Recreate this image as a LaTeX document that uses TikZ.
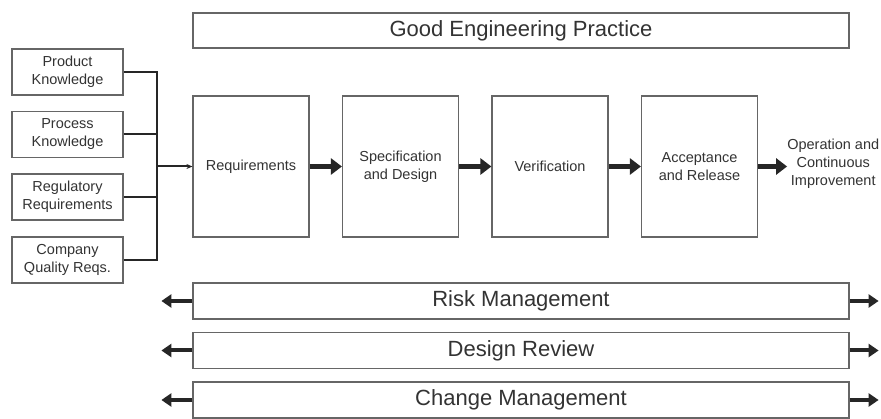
\documentclass[tikz,border=0pt]{standalone}
\usepackage{fontspec}
\setmainfont{Liberation Sans}
\usetikzlibrary{arrows.meta,positioning}
\tikzset{
	box/.style={draw=black!60,line width=1.2pt,text=black!80,align=center,inner sep=0pt},
	inbox/.style={box,minimum width=111pt,minimum height=46pt,font=\fontsize{14.5}{18}\selectfont},
	stage/.style={box,minimum width=116pt,minimum height=141pt,font=\fontsize{14.5}{18}\selectfont},
	bar/.style={box,minimum width=656pt,minimum height=36pt,font=\fontsize{22}{24}\selectfont},
	bus/.style={line width=2pt,black!85},
	fat/.style={line width=5pt,black!85,-{Triangle[length=11pt,width=16pt]}},
	side/.style={line width=4pt,black!85,-{Triangle[length=10pt,width=13pt]}}
}
\begin{document}
\begin{tikzpicture}[x=1pt,y=-1pt]
	\useasboundingbox[fill=white] (0,0) rectangle (881,419);

	\node[bar,minimum height=35pt] (gep) at (521,30.5) {Good Engineering Practice};

	% inputs
	\foreach \i/\y/\t in {1/72/{Product\\Knowledge},2/134.5/{Process\\Knowledge},3/197/{Regulatory\\Requirements},4/260/{Company\\Quality Reqs.}}
		\node[inbox] (in\i) at (67.5,\y) {\t};

	% life cycle
	\node[stage] (req) at (251,166.5) {Requirements};
	\node[stage,right=32.3pt of req] (spec) {Specification\\and Design};
	\node[stage,right=32.3pt of spec] (ver) {Verification};
	\node[stage,right=32.3pt of ver] (acc) {Acceptance\\and Release};
	\node[font=\fontsize{14.5}{18}\selectfont,text=black!80,align=center,inner sep=0pt,right=29pt of acc,yshift=3pt] (op) {Operation and\\Continuous\\Improvement};

	\coordinate (bus) at (157,166.5);
	\foreach \i in {1,...,4} \draw[bus] (in\i.east) -| (bus);
	\draw[bus,-{Stealth[length=6pt,width=5pt]}] (bus) -- (req.west);

	\draw[fat] (req) -- (spec);
	\draw[fat] (spec) -- (ver);
	\draw[fat] (ver) -- (acc);
	\draw[fat] (acc.east) -- (acc.east -| op.west);

	% supporting processes
	\foreach \n/\y/\t in {risk/301/Risk Management,rev/350.5/Design Review,chg/400/Change Management} {
		\node[bar] (\n) at (521,\y) {\t};
		\path (\n.west) ++(-31,0) coordinate (\n-l);
		\path (\n.east) ++(29,0) coordinate (\n-r);
		\draw[side] (\n.west) -- (\n-l);
		\draw[side] (\n.east) -- (\n-r);
	}
\end{tikzpicture}
\end{document}
